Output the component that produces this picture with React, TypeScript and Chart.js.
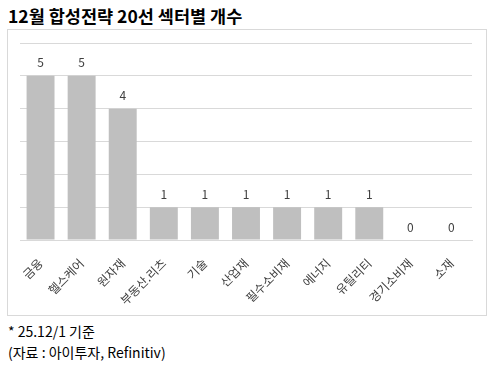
import React, { useEffect, useRef } from "react";
import { Chart, registerables } from "chart.js";

Chart.register(...registerables);

const categories = ["금융", "헬스케어", "원자재", "부동산.리츠", "기술", "산업재", "필수소비재", "에너지", "유틸리티", "경기소비재", "소재"];
const counts = [5, 5, 4, 1, 1, 1, 1, 1, 1, 0, 0];
const titleText = "12월 합성전략 20선 섹터별 개수";
const noteLines = ["* 25.12/1 기준", "(자료 : 아이투자, Refinitiv)"];

const FONT = "'Noto Sans CJK KR', 'Noto Sans', sans-serif";

const valueLabels = {
  id: "valueLabels",
  afterDatasetsDraw(chart: any) {
    const ctx = chart.ctx;
    const meta = chart.getDatasetMeta(0);
    ctx.save();
    ctx.fillStyle = "#404040";
    ctx.font = `12px ${FONT}`;
    ctx.textAlign = "center";
    ctx.textBaseline = "middle";
    meta.data.forEach((bar: any, i: number) => {
      ctx.fillText(String(counts[i]), bar.x, bar.y - 13);
    });
    ctx.restore();
  },
};

export default function App() {
  const ref = useRef<HTMLCanvasElement | null>(null);
  useEffect(() => {
    document.body.style.margin = "0";
    const chart = new Chart(ref.current as HTMLCanvasElement, {
      type: "bar",
      data: {
        labels: categories,
        datasets: [
          {
            data: counts,
            backgroundColor: "#bfbfbf",
            categoryPercentage: 0.68,
            barPercentage: 1,
          },
        ],
      },
      options: {
        animation: false,
        responsive: false,
        maintainAspectRatio: false,
        layout: { padding: { left: 12, right: 14, top: 13, bottom: 0 } },
        plugins: { legend: { display: false }, tooltip: { enabled: false } },
        scales: {
          x: {
            grid: { display: false },
            border: { display: true, color: "#d9d9d9" },
            afterFit: (scale: any) => {
              scale.height = 75;
            },
            ticks: {
              color: "#404040",
              font: { family: FONT, size: 12 },
              minRotation: 45,
              maxRotation: 45,
              autoSkip: false,
              padding: 8,
            },
          },
          y: {
            min: 0,
            max: 6,
            ticks: { display: false, stepSize: 1 },
            grid: { color: "#d9d9d9", drawTicks: false },
            border: { display: false },
          },
        },
      },
      plugins: [valueLabels],
    });
    return () => chart.destroy();
  }, []);

  return (
    <div style={{ position: "relative", width: 492, height: 367, background: "#fff", fontFamily: FONT }}>
      <div style={{ position: "absolute", left: 8, top: 5, fontSize: 17.5, fontWeight: 700, color: "#000", whiteSpace: "nowrap", lineHeight: "22px" }}>
        {titleText}
      </div>
      <div style={{ position: "absolute", left: 7, top: 29, width: 478, height: 285, border: "1px solid #d9d9d9" }}>
        <canvas ref={ref} width={478} height={285} style={{ display: "block" }} />
      </div>
      <div style={{ position: "absolute", left: 8, top: 321, fontSize: 14, color: "#000", lineHeight: "21px", whiteSpace: "nowrap" }}>
        {noteLines.map((t, i) => (
          <div key={i}>{t}</div>
        ))}
      </div>
    </div>
  );
}
